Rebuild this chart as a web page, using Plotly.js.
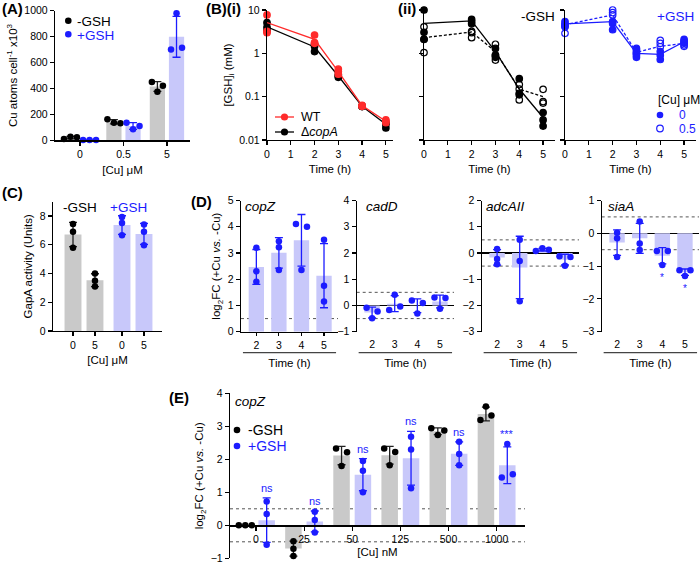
<!DOCTYPE html>
<html>
<head>
<meta charset="utf-8">
<script src="https://cdn.plot.ly/plotly-3.0.1.min.js"></script>
<style>
  body { margin: 0; background: #fff; }
  #fig { width: 700px; height: 564px; }
</style>
</head>
<body>
<div id="fig"></div>
<script>
/* values, three replicates per condition */

// (A) cell-associated Cu, atoms per cell x10^3
const cuUM = ['0', '0.5', '5'];
const cuAtomsNoGSH = [[10, 28, 23], [162, 136, 131], [450, 375, 420]];
const cuAtomsGSH = [[3, 3, 3], [136, 85, 110], [980, 700, 715]];

// (B)(i) intracellular GSH (mM), WT vs copA mutant
const sampleHours = [0, 2, 3, 4, 5];
const gshWT = [[7.7, 3.2, 3.0], [2.65, 1.76, 1.7], [0.43, 0.38, 0.33], [0.061, 0.063, 0.06], [0.029, 0.025, 0.027]];
const gshWTMean = [5.1, 2.1, 0.38, 0.062, 0.027];
const gshCopA = [[5.1, 4.0, 3.3], [1.45, 1.1, 1.6], [0.28, 0.3, 0.32], [0.06, 0.061, 0.059], [0.019, 0.023, 0.025]];
const gshCopAMean = [4.1, 1.4, 0.3, 0.06, 0.023];

// (B)(ii) WT at 0 or 0.5 uM Cu, without / with GSH added
const noGSHCu0 = [[10, 3.05, 2.1], [6.1, 5.4, 4.8], [1.3, 0.91, 0.81], [0.26, 0.12, 0.11], [0.043, 0.029, 0.021]];
const noGSHCu0Mean = [4.9, 5.6, 1.1, 0.15, 0.033];
const noGSHCu05 = [[4.1, 2.1, 1.04], [3.2, 2.3, 3.0], [1.62, 0.7, 0.9], [0.19, 0.084, 0.15], [0.148, 0.077, 0.071]];
const noGSHCu05Mean = [2.3, 3.1, 1.1, 0.15, 0.1];
const plusGSHCu0 = [[5.4, 4.75, 4.3], [5.4, 4.9, 3.5], [1.3, 0.91, 0.81], [1.1, 0.72, 0.9], [2.1, 1.86, 1.7]];
const plusGSHCu0Mean = [4.8, 5.4, 1.0, 0.95, 1.85];
const plusGSHCu05 = [[4.1, 2.9, 4.5], [10, 8.7, 7.7], [1.2, 1.05, 1.0], [2.0, 1.7, 1.42], [1.86, 1.56, 1.45]];
const plusGSHCu05Mean = [4.6, 7.7, 1.05, 1.45, 1.7];

// (C) GapA activity (units)
const gapaCu = ['0', '5'];
const gapaNoGSH = [[7.45, 6.9, 5.8], [4.0, 3.5, 3.1]];
const gapaGSH = [[7.94, 7.52, 6.67], [7.41, 6.9, 5.97]];

// (D) log2 fold change (+Cu vs -Cu) over time
const dHours = [2, 3, 4, 5];
const dGenes = ['copZ', 'cadD', 'adcAII', 'siaA'];
const copZTime = [[3.2, 2.3, 1.9], [3.45, 3.22, 2.35], [4.1, 4.0, 2.35], [3.5, 1.75, 1.15]];
const cadDTime = [[-0.09, -0.49, -0.23], [-0.17, 0.41, -0.04], [0.19, 0.09, -0.31], [0.3, 0.28, -0.13]];
const adcAIITime = [[0.15, -0.23, -0.43], [0.5, -0.31, -1.84], [0.08, 0.18, 0.12], [-0.12, -0.15, -0.49]];
const siaATime = [[0.02, -0.15, -0.72], [0.36, -0.31, -0.51], [-0.54, -0.54, -0.97], [-1.13, -1.13, -1.3]];
const siaASig = ['', '', '*', '*'];
const foldCutoff = [0.5, -0.5];

// (E) copZ log2FC vs Cu dose (nM)
const cuNM = ['0', '25', '50', '125', '500', '1000'];
const copZNoGSH = [[0, 0, 0], [-0.48, -0.71, -0.93], [2.33, 2.21, 1.8], [2.33, 2.22, 1.82], [2.94, 2.74, 2.87], [3.19, 3.6, 3.33]];
const copZGSH = [[0.72, 0.34, -0.59], [0.41, 0.16, -0.22], [1.95, 1.65, 1.0], [2.68, 2.3, 1.12], [2.53, 2.16, 1.82], [2.46, 1.45, 1.55]];
const copZSig = ['ns', 'ns', 'ns', 'ns', 'ns', '***'];

/* ---------- look ---------- */
const W = 700, H = 564;
const FONT = 'Liberation Sans, Arial, Helvetica, sans-serif';
const BLUE = '#1c1cff', LIGHT_BLUE = '#c8c8fa', GREY = '#c9c9c9', RED = '#ff2b2b', INK = '#000';
const NO_GSH = { fill: GREY, line: '#222', dot: INK };
const WITH_GSH = { fill: LIGHT_BLUE, line: BLUE, dot: BLUE };
const TICK_SIZE = 10.5, TITLE_SIZE = 11.5;

// plot frames in pixels: x = [left, right], y = [top, bottom]
const frames = {
  A: { x: [55, 190], y: [10.7, 140.3], xr: [-0.575, 2.53], yr: [0, 1000] },
  Bi: { x: [267, 393], y: [10, 140], xr: [0, 5.3], yr: [-2, 1] },
  Bii1: { x: [424, 555], y: [10, 140], xr: [0, 5.5], yr: [-2, 1] },
  Bii2: { x: [565, 696], y: [10, 140], xr: [0, 5.5], yr: [-2, 1] },
  C: { x: [53, 162], y: [201.7, 331], xr: [-0.91, 4.05], yr: [0, 9] },
  D: [
    { x: [241, 338], y: [200.5, 331.7], xr: [1.32, 5.62], yr: [0, 5] },
    { x: [356.7, 454], y: [200.5, 331.7], xr: [1.32, 5.62], yr: [-1, 4] },
    { x: [481.7, 579], y: [200.5, 331.7], xr: [1.32, 5.62], yr: [-3, 2] },
    { x: [601.7, 699], y: [200.5, 331.7], xr: [1.32, 5.62], yr: [-3, 1] }
  ],
  E: { x: [230, 525], y: [393.3, 558.3], xr: [-0.54, 5.59], yr: [-1, 4] }
};

const mean = a => a.reduce((s, v) => s + v, 0) / a.length;
const sd = a => { const m = mean(a); return Math.sqrt(a.reduce((s, v) => s + (v - m) ** 2, 0) / (a.length - 1)); };
const ppuX = f => (f.x[1] - f.x[0]) / (f.xr[1] - f.xr[0]);
const ppuY = f => (f.y[1] - f.y[0]) / (f.yr[1] - f.yr[0]);

// sideways offsets (px) for replicate dots that would sit on top of each other
function spread(vals, pxPerUnit) {
  const order = vals.map((_, i) => i).sort((a, b) => vals[a] - vals[b]);
  const groups = [[order[0]]];
  for (let k = 1; k < order.length; k++) {
    const gap = Math.abs(vals[order[k]] - vals[order[k - 1]]) * pxPerUnit;
    if (gap < 5) groups[groups.length - 1].push(order[k]);
    else groups.push([order[k]]);
  }
  const off = vals.map(() => 0);
  groups.forEach(g => {
    g.sort((a, b) => a - b);
    const step = g.length === 2 ? 11 : 6.5;
    g.forEach((i, j) => { off[i] = (j - (g.length - 1) / 2) * step; });
  });
  return off;
}

// mean bar + SD error bar + replicate dots
function barDots(xa, ya, f, centers, reps, st, width) {
  const xs = [], ys = [];
  reps.forEach((r, i) => {
    const off = spread(r, ppuY(f));
    r.forEach((v, j) => { xs.push(centers[i] + off[j] / ppuX(f)); ys.push(v); });
  });
  return [
    {
      type: 'bar', x: centers, y: reps.map(mean), width: width, xaxis: xa, yaxis: ya,
      marker: { color: st.fill, line: { width: 0 } },
      error_y: { type: 'data', array: reps.map(sd), color: st.line, thickness: 1.3, width: 4 },
      hoverinfo: 'skip', showlegend: false
    },
    {
      type: 'scatter', mode: 'markers', x: xs, y: ys, xaxis: xa, yaxis: ya, cliponaxis: false,
      marker: { color: st.dot, size: 6.5 }, showlegend: false
    }
  ];
}

// replicate dots plus a line through the means
function timeCourse(xa, ya, reps, means, color, symbol, dash, name) {
  const xs = [], ys = [];
  reps.forEach((r, i) => r.forEach(v => { xs.push(sampleHours[i]); ys.push(v); }));
  return [
    {
      type: 'scatter', mode: 'lines', x: sampleHours, y: means, xaxis: xa, yaxis: ya, name: name,
      line: { color: color, width: 1.3, dash: dash }, hoverinfo: 'skip', showlegend: false
    },
    {
      type: 'scatter', mode: 'markers', x: xs, y: ys, xaxis: xa, yaxis: ya, cliponaxis: false, name: name,
      marker: { color: color, size: 6.5, symbol: symbol, line: { color: color, width: 1.2 } },
      showlegend: false
    }
  ];
}

const traces = [];
const SHORT_DASH = '3px,2px';

// (A)
const aPos = cuUM.map((_, i) => i);
traces.push(...barDots('x', 'y', frames.A, aPos.map(v => v - 0.22), cuAtomsNoGSH, NO_GSH, 0.35));
traces.push(...barDots('x', 'y', frames.A, aPos.map(v => v + 0.22), cuAtomsGSH, WITH_GSH, 0.35));

// (B)(i)
traces.push(...timeCourse('x2', 'y2', gshCopA, gshCopAMean, INK, 'circle', 'solid', 'ΔcopA'));
traces.push(...timeCourse('x2', 'y2', gshWT, gshWTMean, RED, 'circle', 'solid', 'WT'));

// (B)(ii)
traces.push(...timeCourse('x3', 'y3', noGSHCu0, noGSHCu0Mean, INK, 'circle', 'solid', '-GSH, 0 µM Cu'));
traces.push(...timeCourse('x3', 'y3', noGSHCu05, noGSHCu05Mean, INK, 'circle-open', SHORT_DASH, '-GSH, 0.5 µM Cu'));
traces.push(...timeCourse('x4', 'y4', plusGSHCu0, plusGSHCu0Mean, BLUE, 'circle', 'solid', '+GSH, 0 µM Cu'));
traces.push(...timeCourse('x4', 'y4', plusGSHCu05, plusGSHCu05Mean, BLUE, 'circle-open', SHORT_DASH, '+GSH, 0.5 µM Cu'));

// (C) two bars per treatment, treatments separated by a small gap
const cGroupStep = 2.23;
const cNoPos = gapaCu.map((_, j) => j);
const cPlusPos = gapaCu.map((_, j) => cGroupStep + j);
traces.push(...barDots('x5', 'y5', frames.C, cNoPos, gapaNoGSH, NO_GSH, 0.77));
traces.push(...barDots('x5', 'y5', frames.C, cPlusPos, gapaGSH, WITH_GSH, 0.77));

// (D)
[copZTime, cadDTime, adcAIITime, siaATime].forEach((reps, k) => {
  traces.push(...barDots('x' + (6 + k), 'y' + (6 + k), frames.D[k], dHours, reps, WITH_GSH, 0.68));
});

// (E)
const ePos = cuNM.map((_, i) => i);
traces.push(...barDots('x10', 'y10', frames.E, ePos.map(v => v - 0.222), copZNoGSH, NO_GSH, 0.343));
traces.push(...barDots('x10', 'y10', frames.E, ePos.map(v => v + 0.222), copZGSH, WITH_GSH, 0.343));

/* ---------- axes ---------- */
const axisBase = {
  showline: true, linecolor: INK, linewidth: 1.2,
  ticks: 'outside', ticklen: 4, tickwidth: 1.2, tickcolor: INK,
  showgrid: false, zeroline: false, fixedrange: true,
  tickfont: { family: FONT, size: TICK_SIZE, color: INK }
};
function withTitle(a, title, standoff) {
  if (title) a.title = { text: title, font: { family: FONT, size: TITLE_SIZE, color: INK }, standoff: standoff ?? 4 };
  return a;
}
function xAxis(f, opts, title, standoff) {
  return withTitle(Object.assign({}, axisBase, { domain: [f.x[0] / W, f.x[1] / W], range: f.xr }, opts), title, standoff);
}
function yAxis(f, opts, title, standoff) {
  return withTitle(Object.assign({}, axisBase, { domain: [1 - f.y[1] / H, 1 - f.y[0] / H], range: f.yr }, opts), title, standoff);
}
const logTicks = { type: 'log', tickvals: [0.01, 0.1, 1, 10], ticktext: ['0.01', '0.1', '1', '10'] };

const layout = {
  width: W, height: H,
  margin: { l: 0, r: 0, t: 0, b: 0 },
  paper_bgcolor: '#fff', plot_bgcolor: 'rgba(0,0,0,0)',
  font: { family: FONT, size: TICK_SIZE, color: INK },
  barmode: 'overlay',
  showlegend: false,
  xaxis: xAxis(frames.A, { anchor: 'y', tickvals: aPos, ticktext: cuUM }, '[Cu] μM', 6),
  yaxis: yAxis(frames.A, { anchor: 'x', tick0: 0, dtick: 200 }, 'Cu atoms cell<sup>-1</sup> x10<sup>3</sup>'),
  xaxis2: xAxis(frames.Bi, { anchor: 'y2', tick0: 0, dtick: 1 }, 'Time (h)', 6),
  yaxis2: yAxis(frames.Bi, Object.assign({ anchor: 'x2' }, logTicks), '[GSH]<sub>i</sub> (mM)'),
  xaxis3: xAxis(frames.Bii1, { anchor: 'y3', tick0: 0, dtick: 1 }, 'Time (h)', 6),
  yaxis3: yAxis(frames.Bii1, Object.assign({ anchor: 'x3', showticklabels: false }, logTicks)),
  xaxis4: xAxis(frames.Bii2, { anchor: 'y4', tick0: 0, dtick: 1 }, 'Time (h)', 6),
  yaxis4: yAxis(frames.Bii2, Object.assign({ anchor: 'x4', showticklabels: false }, logTicks)),
  xaxis5: xAxis(frames.C, { anchor: 'y5', tickvals: cNoPos.concat(cPlusPos), ticktext: gapaCu.concat(gapaCu) }, '[Cu] μM', 6),
  yaxis5: yAxis(frames.C, { anchor: 'x5', tickvals: [0, 2, 4, 6, 8] }, 'GapA activity (Units)')
};

// D: hour labels at the frame bottom, the baseline drawn at y = 0
dGenes.forEach((g, k) => {
  const n = 6 + k, f = frames.D[k];
  const zeroAtBottom = f.yr[0] === 0;
  layout['xaxis' + n] = xAxis(f, {
    anchor: 'y' + n, tickvals: dHours, ticklen: 3,
    showline: zeroAtBottom, tickcolor: zeroAtBottom ? INK : 'rgba(0,0,0,0)'
  }, 'Time (h)', 9);
  layout['yaxis' + n] = yAxis(f, {
    anchor: 'x' + n, dtick: 1, zeroline: !zeroAtBottom, zerolinecolor: INK, zerolinewidth: 1.2
  }, k === 0 ? 'log<sub>2</sub>FC (+Cu <i>vs.</i> -Cu)' : '');
});
// E: the dose axis runs along y = 0
const fE = frames.E, liftE = -fE.yr[0] * ppuY(fE);
layout.xaxis10 = xAxis(fE, { anchor: 'free', position: 1 - (fE.y[1] - liftE) / H, tickvals: ePos, ticktext: cuNM }, '[Cu] nM', 3);
layout.yaxis10 = yAxis(fE, { anchor: 'x10', dtick: 1 }, 'log<sub>2</sub>FC (+Cu <i>vs.</i> -Cu)');

/* ---------- shapes: cut-off lines, Time (h) rules, legend keys ---------- */
const shapes = [];
[6, 7, 8, 9, 10].forEach(n => {
  const f = n === 10 ? fE : frames.D[n - 6];
  foldCutoff.forEach(t => {
    if (t <= f.yr[0] || t >= f.yr[1]) return;
    shapes.push({ type: 'line', xref: 'x' + n + ' domain', x0: 0, x1: 1, yref: 'y' + n, y0: t, y1: t,
      line: { color: '#555', width: 1, dash: 'dot' }, layer: 'below' });
  });
});
[6, 7, 8, 9].forEach(n => {
  shapes.push({ type: 'line', xref: 'x' + n + ' domain', x0: 0.02, x1: 0.98, yref: 'paper',
    y0: 1 - 352.7 / H, y1: 1 - 352.7 / H, line: { color: '#444', width: 1.2 } });
});
function dot(cx, cy, color, open, r) {
  r = r || 3.3;
  shapes.push({ type: 'circle', xref: 'paper', yref: 'paper',
    x0: (cx - r) / W, x1: (cx + r) / W, y0: 1 - (cy + r) / H, y1: 1 - (cy - r) / H,
    fillcolor: open ? '#fff' : color, line: { color: color, width: open ? 1.2 : 0 } });
}
function rule(xa, xb, y, color) {
  shapes.push({ type: 'line', xref: 'paper', yref: 'paper', x0: xa / W, x1: xb / W, y0: 1 - y / H, y1: 1 - y / H,
    line: { color: color, width: 1.3 } });
}
dot(68.3, 20.7, INK); dot(68.3, 34.3, BLUE);
rule(275, 294, 117, RED); dot(284.5, 117, RED, false, 3.6);
rule(275, 294, 132, INK); dot(284.5, 132, INK, false, 3.6);
dot(660, 115, BLUE); dot(660, 128.5, BLUE, true);
dot(237, 430, INK); dot(237, 446, BLUE);
layout.shapes = shapes;

/* ---------- text ---------- */
const ann = [];
function note(text, x, y, size, color, anchor, extra) {
  ann.push(Object.assign({ xref: 'paper', yref: 'paper', x: x / W, y: 1 - y / H, text: text, showarrow: false,
    xanchor: anchor || 'left', yanchor: 'middle', font: { family: FONT, size: size, color: color || INK } }, extra));
}
note('<b>(A)</b>', 0, 9, 15);
note('<b>(B)(i)</b>', 204, 9, 15);
note('<b>(ii)</b>', 396, 9, 15);
note('<b>(C)</b>', 0, 192, 15);
note('<b>(D)</b>', 189, 201, 15);
note('<b>(E)</b>', 167, 397, 15);

note('-GSH', 75, 21, 13.5);
note('+GSH', 75, 35, 13.5, BLUE);
note('WT', 299, 117, 12.5);
note('Δ<i>copA</i>', 299, 132, 12.5);
note('-GSH', 557, 16, 13.5, INK, 'right');
note('+GSH', 696, 16, 13.5, BLUE, 'right');
note('[Cu] μM', 656, 100, 12);
note('0', 677, 115, 12, BLUE);
note('0.5', 677, 129, 12, BLUE);
note('-GSH', 80, 207, 13.5, INK, 'center');
note('+GSH', 128, 207, 13.5, BLUE, 'center');
note('-GSH', 246, 430, 14);
note('+GSH', 246, 446, 14, BLUE);

const geneX = [243, 364, 484, 606];
dGenes.forEach((g, k) => note('<i>' + g + '</i>', geneX[k], 206, 13.5));
note('<i>copZ</i>', 233, 401, 13.5);

// significance marks
copZSig.forEach((s, i) => {
  const r = copZGSH[i];
  ann.push({ xref: 'x10', yref: 'y10', x: ePos[i] + 0.222, y: Math.max(...r, mean(r) + sd(r)), yanchor: 'bottom', yshift: 2,
    text: s, showarrow: false, font: { family: FONT, size: 11, color: BLUE } });
});
siaASig.forEach((s, i) => {
  if (!s) return;
  const r = siaATime[i];
  ann.push({ xref: 'x9', yref: 'y9', x: dHours[i], y: Math.min(...r, mean(r) - sd(r)), yanchor: 'top', yshift: -5,
    text: s, showarrow: false, font: { family: FONT, size: 10, color: BLUE } });
});
layout.annotations = ann;

Plotly.newPlot('fig', traces, layout, { staticPlot: true, displayModeBar: false });
</script>
</body>
</html>
